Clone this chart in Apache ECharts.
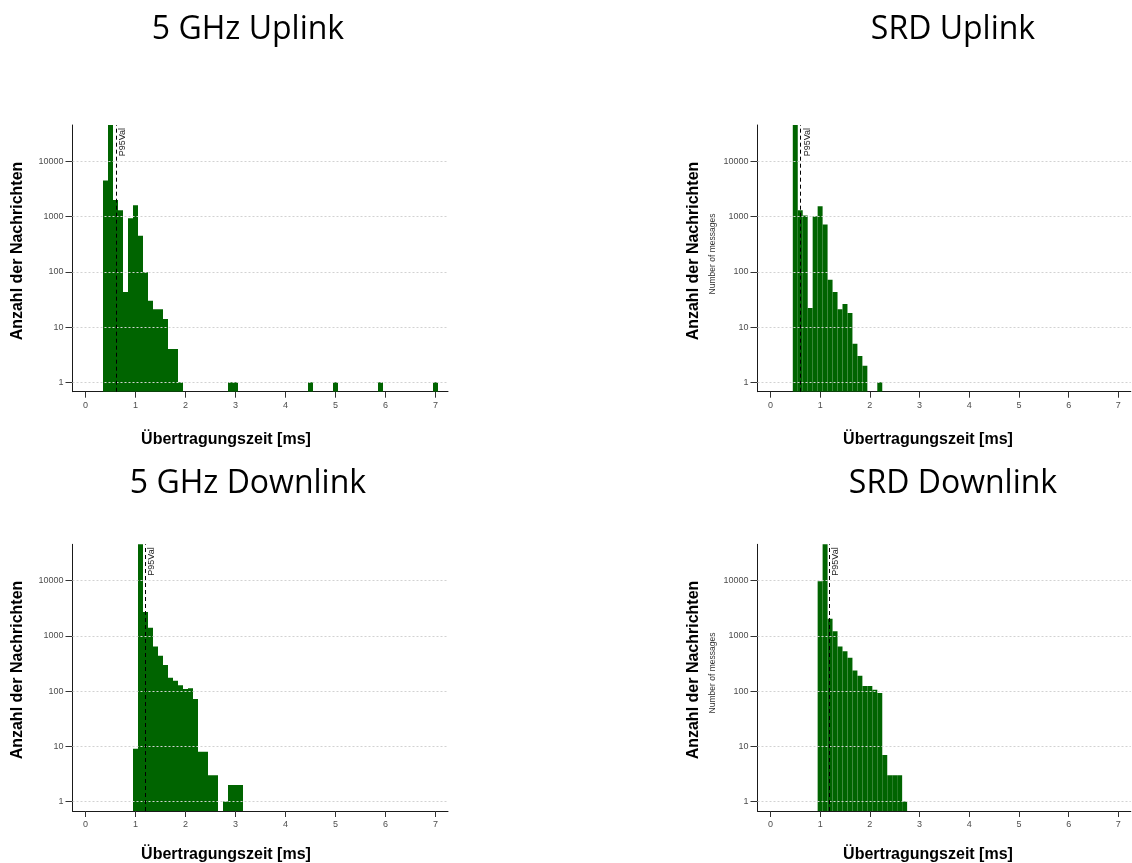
<!DOCTYPE html>
<html>
<head>
<meta charset="utf-8">
<script src="https://cdn.jsdelivr.net/npm/echarts@6/dist/echarts.min.js"></script>
<style>
  html, body { margin: 0; padding: 0; background: #ffffff; }
  #chart { width: 1132px; height: 863px; }
</style>
</head>
<body>
<div id="chart"></div>
<script>
// Histogram bins are 0.1 ms wide; each array holds bin centres and message counts.
const BIN_WIDTH = 0.1;
const X_TICKS = [0, 1, 2, 3, 4, 5, 6, 7];
const Y_TICKS = [1, 10, 100, 1000, 10000];

const panelTitles = ['5 GHz Uplink', 'SRD Uplink', '5 GHz Downlink', 'SRD Downlink'];
const yTitle = 'Anzahl der Nachrichten';
const ySubTitle = 'Number of messages';
const xTitle = 'Übertragungszeit [ms]';
const p95Label = 'P95Val';

// 5 GHz Uplink
const uplink5Bins   = [0.4, 0.5, 0.6, 0.7, 0.8, 0.9, 1.0, 1.1, 1.2, 1.3, 1.4, 1.5, 1.6, 1.7, 1.8, 1.9, 2.9, 3.0, 4.5, 5.0, 5.9, 7.0];
const uplink5Counts = [4500, 52000, 2000, 1300, 43, 930, 1600, 450, 98, 30, 21, 21, 14, 4, 4, 1, 1, 1, 1, 1, 1, 1];

// SRD Uplink
const uplinkSrdBins   = [0.5, 0.6, 0.7, 0.8, 0.9, 1.0, 1.1, 1.2, 1.3, 1.4, 1.5, 1.6, 1.7, 1.8, 1.9, 2.2];
const uplinkSrdCounts = [52000, 1300, 1040, 22, 1010, 1530, 720, 72, 43, 21, 26, 18, 5, 3, 2, 1];

// 5 GHz Downlink
const downlink5Bins   = [1.0, 1.1, 1.2, 1.3, 1.4, 1.5, 1.6, 1.7, 1.8, 1.9, 2.0, 2.1, 2.2, 2.3, 2.4, 2.5, 2.6, 2.8, 2.9, 3.0, 3.1];
const downlink5Counts = [9, 52000, 2700, 1400, 640, 435, 295, 174, 154, 128, 109, 113, 72, 8, 8, 3, 3, 1, 2, 2, 2];

// SRD Downlink
const downlinkSrdBins   = [1.0, 1.1, 1.2, 1.3, 1.4, 1.5, 1.6, 1.7, 1.8, 1.9, 2.0, 2.1, 2.2, 2.3, 2.4, 2.5, 2.6, 2.7];
const downlinkSrdCounts = [9700, 52000, 2030, 1215, 640, 528, 400, 236, 189, 123, 123, 106, 92, 7, 3, 3, 3, 1];

// 95th percentile of the transmission time per panel
const p95Values = [0.62, 0.61, 1.19, 1.18];

const panelBins = [uplink5Bins, uplinkSrdBins, downlink5Bins, downlinkSrdBins];
const panelCounts = [uplink5Counts, uplinkSrdCounts, downlink5Counts, downlinkSrdCounts];
const hasSubTitle = [false, true, false, true];

// Axis extents
const X_MIN = -0.26, X_MAX = 7.25;
const Y_MIN = 0.676, Y_MAX = 45300;

const BAR_COLOR = '#006400';
const TICK_FONT = 'Liberation Sans, Arial, sans-serif';

// Plot rectangles for the 2x2 layout
const gridBoxes = [
  { left: 72.5,  top: 125,   width: 375.5, height: 266.7 },
  { left: 757.5, top: 125,   width: 373.3, height: 266.7 },
  { left: 72.5,  top: 544.3, width: 375.5, height: 266.7 },
  { left: 757.5, top: 544.3, width: 373.3, height: 266.7 }
];
const titlePos  = [[248, 30], [953, 30], [248, 484], [953, 484]];
const yTitlePos = [[18, 251], [694, 251], [18, 670], [694, 670]];
const ySubPos   = [[0, 0], [713, 254], [0, 0], [713, 673]];
const xTitlePos = [[226, 440], [928, 440], [226, 855], [928, 855]];

function renderBar(params, api) {
  const x = api.value(0);
  const y = api.value(1);
  const topLeft = api.coord([x - BIN_WIDTH / 2, y]);
  const bottomRight = api.coord([x + BIN_WIDTH / 2, Y_MIN]);
  return {
    type: 'rect',
    shape: {
      x: topLeft[0],
      y: topLeft[1],
      width: bottomRight[0] - topLeft[0],
      height: bottomRight[1] - topLeft[1]
    },
    style: { fill: BAR_COLOR }
  };
}

const grids = [], xAxes = [], yAxes = [], series = [], graphics = [];

for (let i = 0; i < 4; i++) {
  grids.push(Object.assign({ containLabel: false }, gridBoxes[i]));

  xAxes.push({
    type: 'value',
    gridIndex: i,
    min: X_MIN,
    max: X_MAX,
    axisLine: { show: true, onZero: false, lineStyle: { color: '#1a1a1a', width: 1 } },
    axisTick: { show: true, length: 6, customValues: X_TICKS, lineStyle: { color: '#333' } },
    axisLabel: {
      show: true, customValues: X_TICKS, fontSize: 9, margin: 9,
      color: '#4d4d4d', fontFamily: TICK_FONT
    },
    splitLine: { show: false }
  });

  yAxes.push({
    type: 'log',
    logBase: 10,
    gridIndex: i,
    min: Y_MIN,
    max: Y_MAX,
    axisLine: { show: true, onZero: false, lineStyle: { color: '#1a1a1a', width: 1 } },
    axisTick: { show: true, length: 7, customValues: Y_TICKS, lineStyle: { color: '#333' } },
    axisLabel: {
      show: true, customValues: Y_TICKS, fontSize: 9, margin: 9,
      color: '#4d4d4d', fontFamily: TICK_FONT,
      formatter: v => String(Math.round(v))
    },
    splitLine: { show: false }
  });

  const data = panelBins[i].map((c, k) => [c, panelCounts[i][k]]);

  const gridLines = Y_TICKS.map(v => ({
    yAxis: v,
    lineStyle: { color: '#d2d2d2', width: 1, type: [2, 2] },
    label: { show: false }
  }));

  series.push({
    type: 'custom',
    xAxisIndex: i,
    yAxisIndex: i,
    clip: true,
    renderItem: renderBar,
    encode: { x: 0, y: 1 },
    data: data,
    silent: true,
    markLine: {
      silent: true,
      symbol: 'none',
      animation: false,
      data: gridLines.concat([{
        xAxis: p95Values[i],
        lineStyle: { color: '#000', width: 1, type: [4, 3] },
        label: {
          show: true,
          formatter: p95Label,
          position: 'insideEndBottom',
          distance: [3, 2],
          fontSize: 9,
          color: '#222',
          fontFamily: TICK_FONT
        }
      }])
    }
  });

  graphics.push({
    type: 'text',
    x: titlePos[i][0], y: titlePos[i][1],
    style: {
      text: panelTitles[i],
      font: '32px "Open Sans", sans-serif',
      fill: '#000',
      align: 'center', verticalAlign: 'middle',
      textAlign: 'center', textVerticalAlign: 'middle'
    }
  });
  graphics.push({
    type: 'text',
    x: yTitlePos[i][0], y: yTitlePos[i][1],
    rotation: Math.PI / 2,
    style: {
      text: yTitle,
      font: 'bold 16px "Liberation Sans", Arial, sans-serif',
      fill: '#000',
      align: 'center', verticalAlign: 'middle',
      textAlign: 'center', textVerticalAlign: 'middle'
    }
  });
  if (hasSubTitle[i]) {
    graphics.push({
      type: 'text',
      x: ySubPos[i][0], y: ySubPos[i][1],
      rotation: Math.PI / 2,
      style: {
        text: ySubTitle,
        font: '8.5px "Liberation Sans", Arial, sans-serif',
        fill: '#333',
        align: 'center', verticalAlign: 'middle',
        textAlign: 'center', textVerticalAlign: 'middle'
      }
    });
  }
  graphics.push({
    type: 'text',
    x: xTitlePos[i][0], y: xTitlePos[i][1],
    style: {
      text: xTitle,
      font: 'bold 16px "Liberation Sans", Arial, sans-serif',
      fill: '#000',
      align: 'center', verticalAlign: 'middle',
      textAlign: 'center', textVerticalAlign: 'middle'
    }
  });
}

const chart = echarts.init(document.getElementById('chart'), null, { renderer: 'canvas' });
chart.setOption({
  backgroundColor: '#ffffff',
  animation: false,
  grid: grids,
  xAxis: xAxes,
  yAxis: yAxes,
  series: series,
  graphic: graphics
});
</script>
</body>
</html>
